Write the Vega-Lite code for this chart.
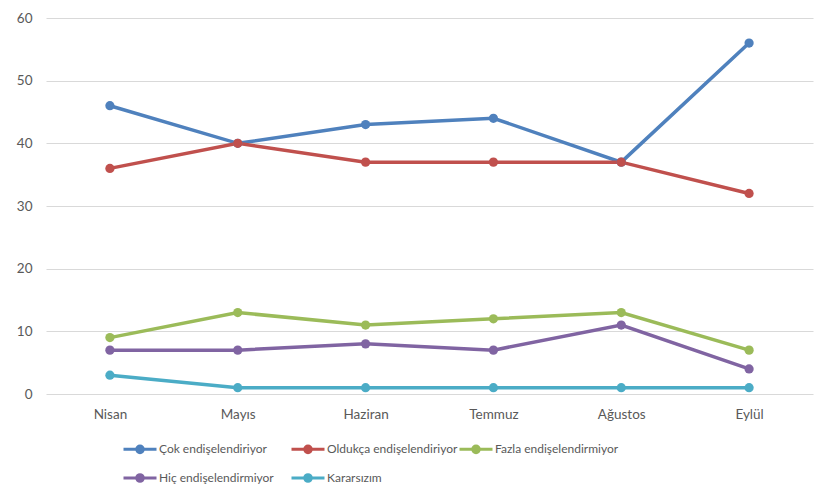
{
  "$schema": "https://vega.github.io/schema/vega-lite/v6.json",
  "width": 767,
  "height": 376,
  "autosize": {"type": "none"},
  "padding": {"left": 46, "top": 18, "right": 12, "bottom": 110},
  "background": "white",
  "data": {
    "values": [
      {"ay": "Nisan", "seri": "Çok endişelendiriyor", "v": 46},
      {"ay": "Mayıs", "seri": "Çok endişelendiriyor", "v": 40},
      {"ay": "Haziran", "seri": "Çok endişelendiriyor", "v": 43},
      {"ay": "Temmuz", "seri": "Çok endişelendiriyor", "v": 44},
      {"ay": "Ağustos", "seri": "Çok endişelendiriyor", "v": 37},
      {"ay": "Eylül", "seri": "Çok endişelendiriyor", "v": 56},
      {"ay": "Nisan", "seri": "Oldukça endişelendiriyor", "v": 36},
      {"ay": "Mayıs", "seri": "Oldukça endişelendiriyor", "v": 40},
      {"ay": "Haziran", "seri": "Oldukça endişelendiriyor", "v": 37},
      {"ay": "Temmuz", "seri": "Oldukça endişelendiriyor", "v": 37},
      {"ay": "Ağustos", "seri": "Oldukça endişelendiriyor", "v": 37},
      {"ay": "Eylül", "seri": "Oldukça endişelendiriyor", "v": 32},
      {"ay": "Nisan", "seri": "Fazla endişelendirmiyor", "v": 9},
      {"ay": "Mayıs", "seri": "Fazla endişelendirmiyor", "v": 13},
      {"ay": "Haziran", "seri": "Fazla endişelendirmiyor", "v": 11},
      {"ay": "Temmuz", "seri": "Fazla endişelendirmiyor", "v": 12},
      {"ay": "Ağustos", "seri": "Fazla endişelendirmiyor", "v": 13},
      {"ay": "Eylül", "seri": "Fazla endişelendirmiyor", "v": 7},
      {"ay": "Nisan", "seri": "Hiç endişelendirmiyor", "v": 7},
      {"ay": "Mayıs", "seri": "Hiç endişelendirmiyor", "v": 7},
      {"ay": "Haziran", "seri": "Hiç endişelendirmiyor", "v": 8},
      {"ay": "Temmuz", "seri": "Hiç endişelendirmiyor", "v": 7},
      {"ay": "Ağustos", "seri": "Hiç endişelendirmiyor", "v": 11},
      {"ay": "Eylül", "seri": "Hiç endişelendirmiyor", "v": 4},
      {"ay": "Nisan", "seri": "Kararsızım", "v": 3},
      {"ay": "Mayıs", "seri": "Kararsızım", "v": 1},
      {"ay": "Haziran", "seri": "Kararsızım", "v": 1},
      {"ay": "Temmuz", "seri": "Kararsızım", "v": 1},
      {"ay": "Ağustos", "seri": "Kararsızım", "v": 1},
      {"ay": "Eylül", "seri": "Kararsızım", "v": 1}
    ]
  },
  "mark": {"type": "line", "strokeWidth": 3.5, "point": {"size": 85, "filled": true, "opacity": 1}},
  "encoding": {
    "x": {
      "field": "ay", "type": "nominal",
      "sort": ["Nisan", "Mayıs", "Haziran", "Temmuz", "Ağustos", "Eylül"],
      "scale": {"paddingInner": 0, "paddingOuter": 0.5},
      "axis": {"title": null, "labelAngle": 0, "ticks": false, "domain": false, "labelPadding": 13, "labelFontSize": 13.5, "labelColor": "#595959", "labelFont": "Lato", "grid": false}
    },
    "y": {
      "field": "v", "type": "quantitative",
      "scale": {"domain": [0, 60], "nice": false},
      "axis": {"title": null, "values": [0, 10, 20, 30, 40, 50, 60], "ticks": false, "domain": false, "labelPadding": 14, "labelFontSize": 13.5, "labelColor": "#595959", "labelFont": "Lato", "gridColor": "#d9d9d9", "gridWidth": 1}
    },
    "color": {
      "field": "seri", "type": "nominal",
      "sort": ["Çok endişelendiriyor", "Oldukça endişelendiriyor", "Fazla endişelendirmiyor", "Hiç endişelendirmiyor", "Kararsızım"],
      "scale": {
        "domain": ["Çok endişelendiriyor", "Oldukça endişelendiriyor", "Fazla endişelendirmiyor", "Hiç endişelendirmiyor", "Kararsızım"],
        "range": ["#4F81BD", "#C0504D", "#9BBB59", "#8064A2", "#4BACC6"]
      },
      "legend": {
        "title": null,
        "orient": "none",
        "legendX": 76,
        "legendY": 413,
        "direction": "horizontal",
        "columns": 3,
        "gridAlign": "all",
        "columnPadding": -36,
        "rowPadding": 1,
        "symbolType": "M-1,0H1M-0.2,0A0.2,0.2 0 1,1 0.2,0A0.2,0.2 0 1,1 -0.2,0Z",
        "symbolSize": 1089,
        "symbolStrokeWidth": 3,
        "symbolOffset": 0,
        "labelOffset": 1,
        "labelFontSize": 12,
        "labelFont": "Lato",
        "labelColor": "#595959",
        "labelLimit": 200
      }
    }
  },
  "config": {"view": {"stroke": null}}
}
